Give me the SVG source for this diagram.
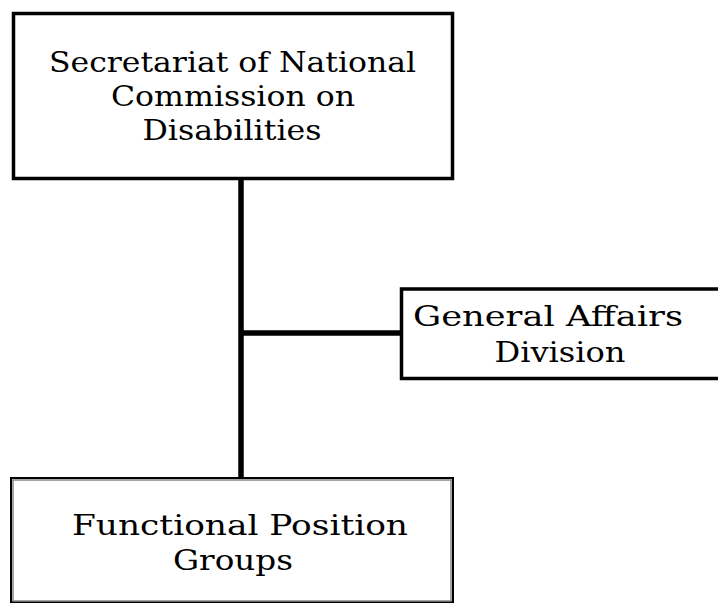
<svg xmlns="http://www.w3.org/2000/svg" width="718" height="603" viewBox="0 0 718 603">
<style>
.box{fill:#fff;stroke:#000;stroke-width:3.5}
.lbl{font-family:"DejaVu Serif","Liberation Serif",serif;font-size:28px;fill:#000;text-anchor:middle;font-weight:300}
.conn{stroke:#000;stroke-width:5.5;fill:none}
</style>
<rect width="718" height="603" fill="#fff"/>
<g id="connectors">
<line class="conn" x1="241" y1="178" x2="241" y2="479"/>
<line class="conn" x1="241" y1="333" x2="402" y2="333"/>
</g>
<g id="node-secretariat">
<rect class="box" x="13.5" y="13.5" width="439" height="165"/>
<text class="lbl" x="232.5" y="72" textLength="367" lengthAdjust="spacingAndGlyphs">Secretariat of National</text>
<text class="lbl" x="233" y="106" textLength="244" lengthAdjust="spacingAndGlyphs">Commission on</text>
<text class="lbl" x="232" y="140" textLength="179" lengthAdjust="spacingAndGlyphs">Disabilities</text>
</g>
<g id="node-general-affairs">
<rect class="box" x="401.5" y="289" width="340" height="89.5"/>
<text class="lbl" x="548" y="326" textLength="270" lengthAdjust="spacingAndGlyphs">General Affairs</text>
<text class="lbl" x="560" y="362" textLength="131" lengthAdjust="spacingAndGlyphs">Division</text>
</g>
<g id="node-functional">
<rect x="11" y="478" width="442" height="124" fill="#fff" stroke="#000" stroke-width="2"/>
<rect x="13" y="480" width="438" height="121" fill="none" stroke="#888" stroke-width="1.5"/>
<text class="lbl" x="240" y="535" textLength="336" lengthAdjust="spacingAndGlyphs">Functional Position</text>
<text class="lbl" x="233" y="570" textLength="120" lengthAdjust="spacingAndGlyphs">Groups</text>
</g>
</svg>
